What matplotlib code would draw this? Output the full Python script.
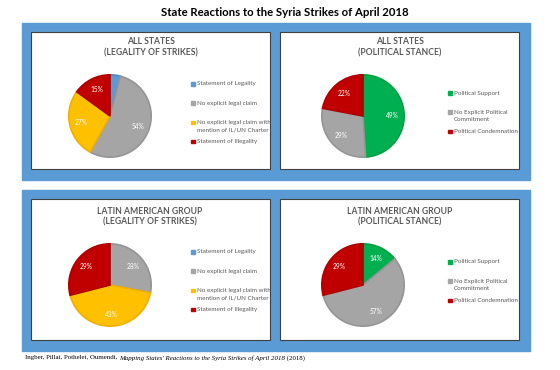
import matplotlib
matplotlib.use('Agg')
import matplotlib.pyplot as plt
from matplotlib.patches import Rectangle

# data (percent)
legality_labels = ['Statement of Legality', 'No explicit legal claim',
                   'No explicit legal claim with\nmention of IL/UN Charter',
                   'Statement of Illegality']
legality_all = [4, 54, 27, 15]
legality_latam = [0, 28, 43, 29]

stance_labels = ['Political Support', 'No Explicit Political\nCommitment',
                 'Political Condemnation']
stance_all = [49, 29, 22]
stance_latam = [14, 57, 29]

legality_colors = ['#5B9BD5', '#A5A5A5', '#FFC000', '#C00000']
legality_edges = ['#4A8BC5', '#959595', '#EFB000', '#B00000']
stance_colors = ['#00B050', '#A5A5A5', '#C00000']
stance_edges = ['#00A040', '#959595', '#B00000']

W, H = 560, 370
fig = plt.figure(figsize=(W / 100, H / 100), dpi=100)

# background axes in pixel coordinates
bg = fig.add_axes([0, 0, 1, 1])
bg.set_xlim(0, W)
bg.set_ylim(H, 0)
bg.axis('off')

font = 'Lato'
bg.text(285, 13, 'State Reactions to the Syria Strikes of April 2018',
        ha='center', va='center', fontsize=8.2, fontweight='bold',
        family=font)

# blue bands and white panels
for y0, y1 in [(23, 180), (190, 351)]:
    bg.add_patch(Rectangle((22, y0), 508, y1 - y0, color='#5B9BD5', zorder=1))
    for x0 in [31, 280]:
        bg.add_patch(Rectangle((x0, y0 + 9), 239, y1 - y0 - 20,
                               facecolor='white', edgecolor='#404040',
                               lw=0.8, zorder=2))


def draw_panel(cx, cy, title, values, colors, edges, labels, tx, lx, ly0):
    ax = fig.add_axes([(cx - 42) / W, 1 - (cy + 42) / H, 84 / W, 84 / H])
    ax.set_zorder(3)
    wedges, texts, autotexts = ax.pie(
        values, colors=colors, startangle=90, counterclock=False,
        autopct=lambda p: f'{p:.0f}%' if p >= 5 else '',
        pctdistance=0.72, wedgeprops=dict(linewidth=1.2),
        textprops=dict(color='white', fontsize=4.8, family=font))
    for w, ec in zip(wedges, edges):
        w.set_edgecolor(ec)
    ax.set_xlim(-1.02, 1.02)
    ax.set_ylim(-1.02, 1.02)

    t1, t2 = title
    bg.text(tx, cy - 74, t1, ha='center', va='center', fontsize=6.2,
            fontweight='bold', color='#595959', family=font, zorder=4)
    bg.text(tx, cy - 63, t2, ha='center', va='center', fontsize=6.2,
            fontweight='bold', color='#595959', family=font, zorder=4)

    # legend
    for i, (lab, col) in enumerate(zip(labels, colors)):
        yy = ly0 + 19.2 * i
        bg.add_patch(Rectangle((lx - 1.8, yy - 1.8), 3.6, 3.6, color=col,
                               zorder=4))
        lines = lab.split('\n')
        for j, ln in enumerate(lines):
            bg.text(lx + 4, yy + 7.5 * j, ln, ha='left', va='center',
                    fontsize=4.5, color='#595959', family=font,
                    zorder=4)


draw_panel(110, 116, ('ALL STATES', '(LEGALITY OF STRIKES)'), legality_all,
           legality_colors, legality_edges, legality_labels, 151, 193, 84)
draw_panel(363, 116, ('ALL STATES', '(POLITICAL STANCE)'), stance_all,
           stance_colors, stance_edges, stance_labels, 400, 450, 93)
draw_panel(110, 285, ('LATIN AMERICAN GROUP', '(LEGALITY OF STRIKES)'),
           legality_latam, legality_colors, legality_edges, legality_labels,
           150, 193, 252)
draw_panel(363, 285, ('LATIN AMERICAN GROUP', '(POLITICAL STANCE)'),
           stance_latam, stance_colors, stance_edges, stance_labels, 400, 450,
           262)

# footer with italic title
renderer = fig.canvas.get_renderer()
parts = [('Ingber, Pillai, Pothelet, Oumendi, ', 'normal'),
         ("Mapping States' Reactions to the Syria Strikes of April 2018", 'italic'),
         (' (2018)', 'normal')]
x = 25
for txt, style in parts:
    t = bg.text(x, 358, txt, ha='left', va='center', fontsize=4.95,
                family='Liberation Serif', style=style)
    bb = t.get_window_extent(renderer=renderer)
    x += bb.width

fig.savefig('out.png', dpi=100)
